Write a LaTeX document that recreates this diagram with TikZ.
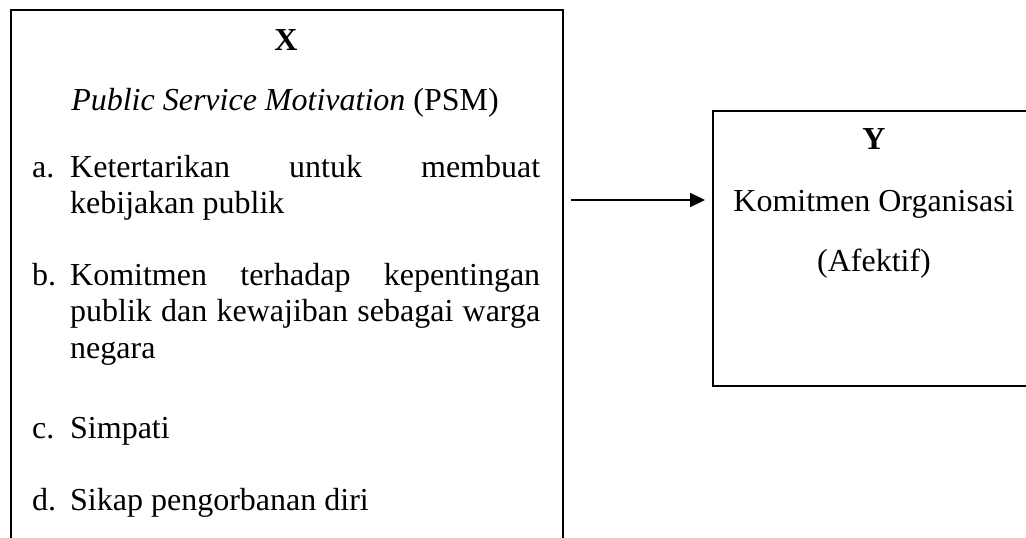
\documentclass[tikz,border=0pt]{standalone}
\usepackage{fontspec}
\setmainfont{Liberation Serif}
\usetikzlibrary{arrows.meta,calc}
\newcommand\dgfont{\fontsize{32}{36.5}\selectfont}
\hyphenpenalty=10000
\exhyphenpenalty=10000
\begin{document}
\begin{tikzpicture}[x=1pt,y=-1pt,
  box/.style={draw,line width=2pt,fill=white,inner sep=0pt,anchor=north west},
  txt/.style={inner sep=0pt,anchor=base,font=\dgfont},
  lbl/.style={inner sep=0pt,anchor=base west,font=\dgfont},
  para/.style={inner sep=0pt,anchor=base west,text width=470pt,align=justify,font=\dgfont},
  arr/.style={line width=2pt,-{Triangle[length=15pt,width=14pt]}}]
\useasboundingbox (0,0) rectangle (1026,538);
\clip (0,0) rectangle (1026,538);
\fill[white] (0,0) rectangle (1026,538);
% boxes
\node[box,minimum width=552pt,minimum height=580pt] (X) at (10,9) {};
\node[box,minimum width=360pt,minimum height=275pt] (Y) at (712,110) {};
% left box text
\node[txt,font=\dgfont\bfseries] (xt) at (286,50) {X};
\node[txt] (psm) at (285,110) {\textit{Public Service Motivation} (PSM)};
\node[lbl] (la) at (32,177) {a.};
\node[para] (pa) at (70,177) {Ketertarikan untuk membuat\linebreak kebijakan publik};
\node[lbl] (lb) at (32,285) {b.};
\node[para] (pb) at (70,285) {Komitmen terhadap kepentingan\linebreak publik dan kewajiban sebagai warga\linebreak negara};
\node[lbl] (lc) at (32,438) {c.};
\node[para] (pc) at (70,438) {Simpati};
\node[lbl] (ld) at (32,510) {d.};
\node[para] (pd) at (70,510) {Sikap pengorbanan diri};
% right box text
\node[txt,font=\dgfont\bfseries] (yt) at (874,149) {Y};
\node[txt] (ko) at (874,211) {Komitmen Organisasi};
\node[txt] (af) at (874,271) {(Afektif)};
% connector
\draw[arr] ($(X.east |- 0,200)+(7,0)$) -- ($(Y.west |- 0,200)+(-7,0)$);
\end{tikzpicture}
\end{document}
